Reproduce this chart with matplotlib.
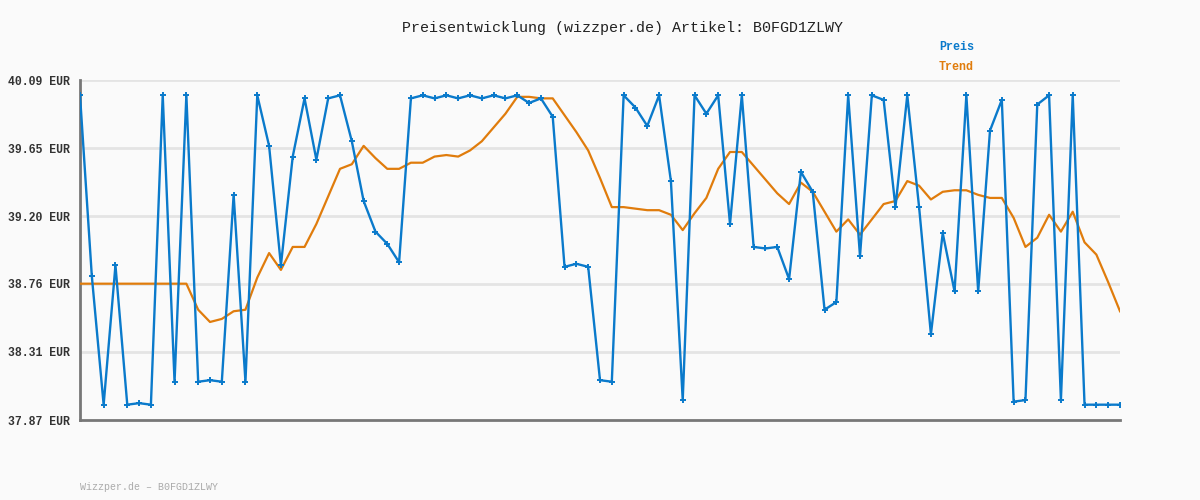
import matplotlib
matplotlib.use("Agg")
import matplotlib.pyplot as plt
import numpy as np

title = "Preisentwicklung (wizzper.de) Artikel: B0FGD1ZLWY"
footer = "Wizzper.de \u2013 B0FGD1ZLWY"
series_names = ["Preis", "Trend"]

preis = [39.99, 38.81, 37.97, 38.88, 37.97, 37.98, 37.97, 39.99, 38.12, 39.99,
         38.12, 38.13, 38.12, 39.34, 38.12, 39.99, 39.66, 38.88, 39.59, 39.97,
         39.57, 39.97, 39.99, 39.69, 39.30, 39.10, 39.02, 38.90, 39.97, 39.99,
         39.97, 39.99, 39.97, 39.99, 39.97, 39.99, 39.97, 39.99, 39.94, 39.97,
         39.85, 38.87, 38.89, 38.87, 38.13, 38.12, 39.99, 39.91, 39.79, 39.99,
         39.43, 38.00, 39.99, 39.87, 39.99, 39.15, 39.99, 39.00, 38.99, 39.00,
         38.79, 39.49, 39.36, 38.59, 38.64, 39.99, 38.94, 39.99, 39.96, 39.26,
         39.99, 39.26, 38.43, 39.09, 38.71, 39.99, 38.71, 39.76, 39.96, 37.99,
         38.00, 39.93, 39.99, 38.00, 39.99, 37.97, 37.97, 37.97, 37.97]

trend = [38.76, 38.76, 38.76, 38.76, 38.76, 38.76, 38.76, 38.76, 38.76, 38.76,
         38.59, 38.51, 38.53, 38.58, 38.59, 38.80, 38.96, 38.85, 39.00, 39.00,
         39.15, 39.33, 39.51, 39.54, 39.66, 39.58, 39.51, 39.51, 39.55, 39.55,
         39.59, 39.60, 39.59, 39.63, 39.69, 39.78, 39.87, 39.98, 39.98, 39.97,
         39.97, 39.86, 39.75, 39.63, 39.45, 39.26, 39.26, 39.25, 39.24, 39.24,
         39.21, 39.11, 39.22, 39.32, 39.51, 39.62, 39.62, 39.53, 39.44, 39.35,
         39.28, 39.42, 39.36, 39.23, 39.10, 39.18, 39.08, 39.18, 39.28, 39.30,
         39.43, 39.40, 39.31, 39.36, 39.37, 39.37, 39.34, 39.32, 39.32, 39.19,
         39.00, 39.06, 39.21, 39.10, 39.23, 39.03, 38.95, 38.77, 38.58]

y_ticks = [37.87, 38.314, 38.758, 39.202, 39.646, 40.09]
y_tick_labels = ["37.87 EUR", "38.31 EUR", "38.76 EUR", "39.20 EUR", "39.65 EUR", "40.09 EUR"]

BLUE = "#0a7acb"
ORANGE = "#e07c0c"
BG = "#fafafa"
MONO = ["Liberation Mono", "DejaVu Sans Mono"]

fig = plt.figure(figsize=(12, 5), dpi=100, facecolor=BG)
ax = fig.add_axes([80 / 1200, 80 / 500, 1040 / 1200, 340 / 500])
ax.set_facecolor(BG)

x = np.arange(len(preis))
ax.plot(x, trend, color=ORANGE, lw=1.6, zorder=3)
ax.plot(x, preis, color=BLUE, lw=1.7, marker="+", ms=4.5, mew=1.4, zorder=4)

ax.set_xlim(0, len(preis) - 1)
ax.set_ylim(y_ticks[0], y_ticks[-1])
ax.set_yticks(y_ticks)
ax.set_yticklabels(y_tick_labels, family=MONO, fontsize=8.3, fontweight="bold", color="#333333")
ax.set_xticks([])
ax.tick_params(axis="y", length=0, pad=7)
for yv in y_ticks[1:]:
    ax.axhline(yv, color="#e4e4e4", lw=2, zorder=1)

for s in ["top", "right"]:
    ax.spines[s].set_visible(False)
for s in ["left", "bottom"]:
    ax.spines[s].set_color("#777777")
    ax.spines[s].set_linewidth(2)

fig.text(623 / 1200, 1 - 28 / 500, title, ha="center", va="center",
         family=MONO, fontsize=10.8, color="#222222")
fig.text(939 / 1200, 1 - 47 / 500, series_names[0], ha="left", va="center",
         family=MONO, fontsize=8.5, fontweight="bold", color=BLUE)
fig.text(939 / 1200, 1 - 67 / 500, series_names[1], ha="left", va="center",
         family=MONO, fontsize=8.5, fontweight="bold", color=ORANGE)
fig.text(80 / 1200, 1 - 487 / 500, footer, ha="left", va="center",
         family=MONO, fontsize=7.2, color="#aaaaaa")

fig.savefig("out.png", dpi=100, facecolor=BG)
